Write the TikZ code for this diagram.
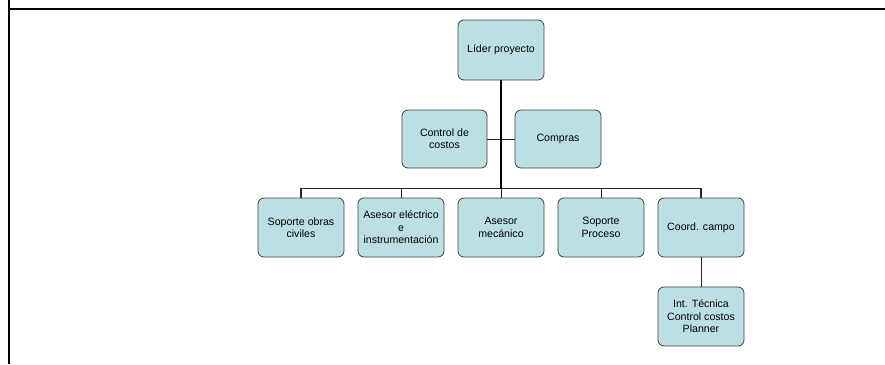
\documentclass[tikz,border=0pt]{standalone}
\usepackage{fontspec}
\setmainfont{Liberation Sans}
\begin{document}
\begin{tikzpicture}[x=1pt,y=-1pt,
  unit/.style={draw=black!75, line width=0.8pt, fill=boxfill, rounded corners=6pt,
    minimum width=86pt, minimum height=59pt, inner sep=1pt,
    align=center, font=\fontsize{10.6}{12.4}\selectfont},
  link/.style={line width=1pt, draw=black!85},
  trunk/.style={line width=2pt}]
\definecolor{boxfill}{HTML}{BBE0E3}
\useasboundingbox (0,0) rectangle (885,364);
% page frame
\draw[line width=2pt] (9,0) -- (9,364);
\draw[line width=2pt] (8,9) -- (885,9);
% units
\node[unit, minimum height=60pt] (lider) at (501,50) {Líder proyecto};
\node[unit, minimum width=85pt, minimum height=58pt] (costos) at (444.5,139) {Control de\\costos};
\node[unit, minimum height=58pt] (compras) at (558,139) {Compras};
\node[unit] (s1) at (301,227.5) {Soporte obras\\civiles};
\node[unit] (s2) at (401,227.5) {Asesor eléctrico\\e\\instrumentación};
\node[unit] (s3) at (501,227.5) {Asesor\\mecánico};
\node[unit] (s4) at (601,227.5) {Soporte\\Proceso};
\node[unit] (s5) at (701,227.5) {Coord. campo};
\node[unit] (s6) at (701,316.5) {Int. Técnica\\Control costos\\Planner};
% connectors
\coordinate (bus) at (501,189);
\draw[link] (costos.east) -- (compras.west);
\draw[link, line width=1.4pt] (s1.north) -- ++(0,-9) -| (s5.north);
\draw[link] (s2.north) -- ++(0,-9);
\draw[link] (s4.north) -- ++(0,-9);
\draw[link] (s3.north) -- (bus);
\draw[trunk] (lider.south) -- (bus);
\draw[link] (s5.south) -- (s6.north);
\end{tikzpicture}
\end{document}
